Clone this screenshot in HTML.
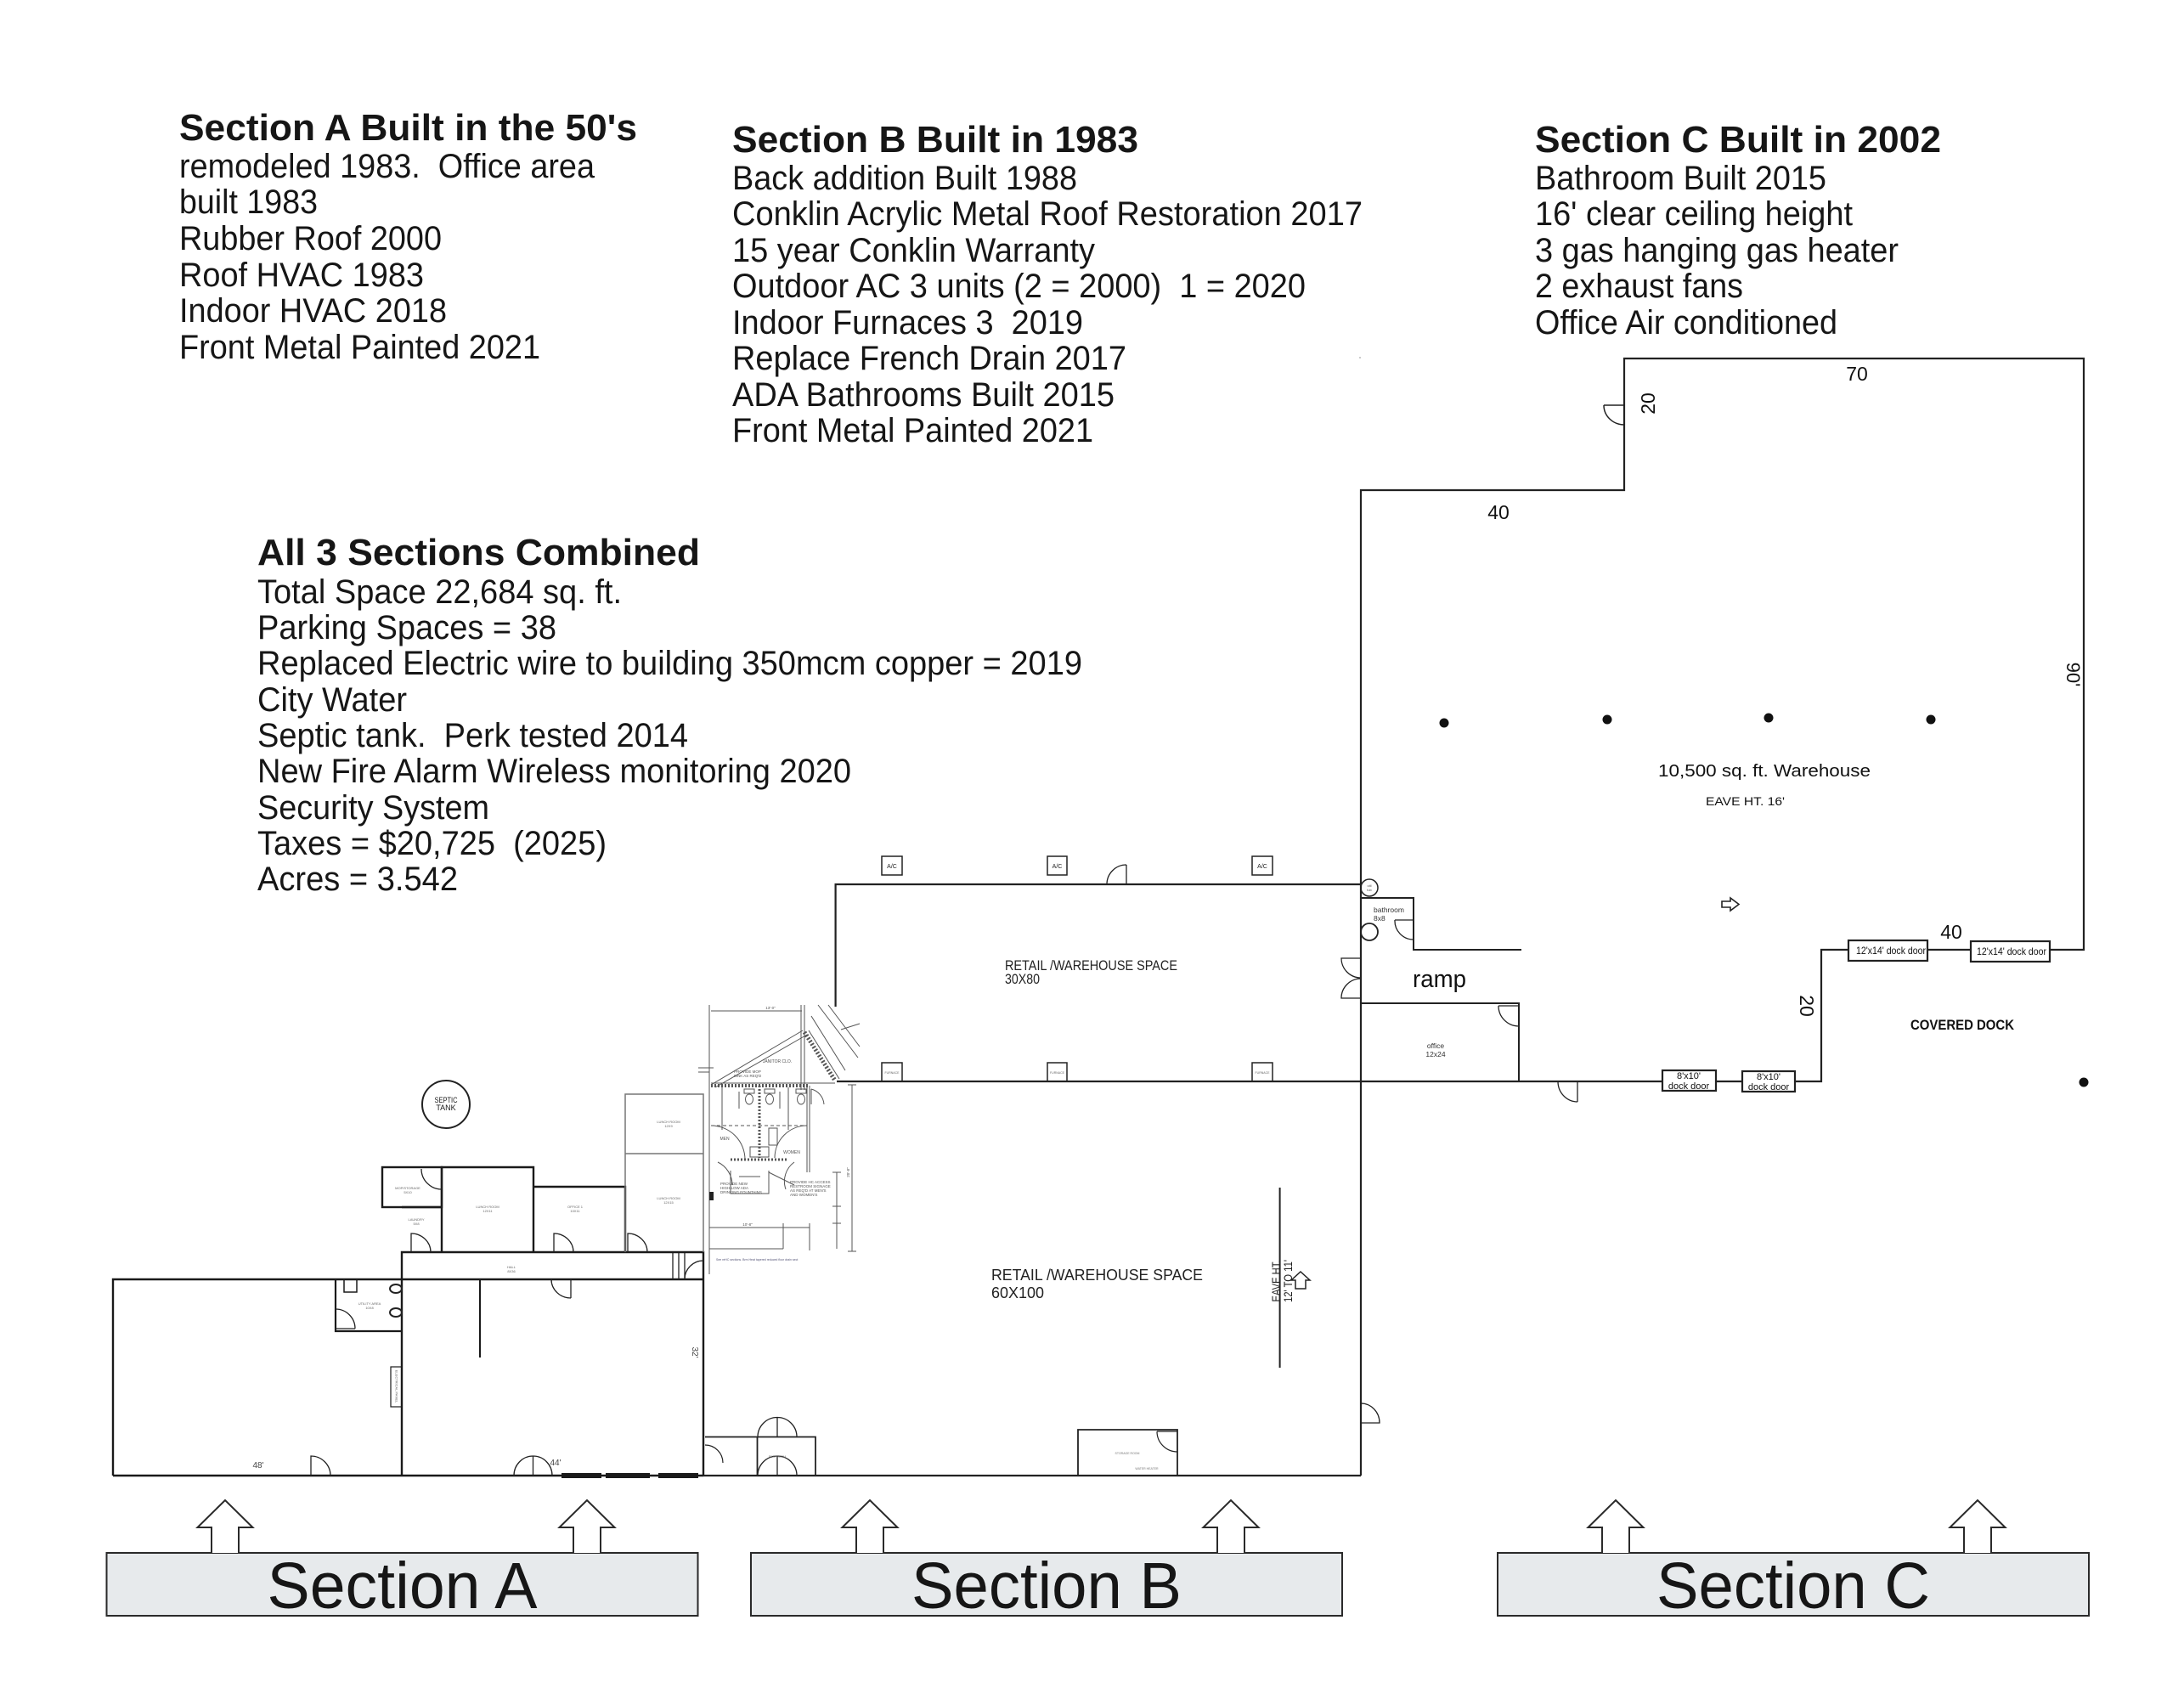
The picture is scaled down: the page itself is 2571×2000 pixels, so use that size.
<!DOCTYPE html>
<html><head><meta charset="utf-8">
<style>
html,body{margin:0;padding:0;background:#fff;}
svg{display:block;}
text{font-family:"Liberation Sans",Arial,sans-serif;white-space:pre;}
</style></head><body>
<svg width="2571" height="2000" viewBox="0 0 2571 2000" xmlns="http://www.w3.org/2000/svg" xml:space="preserve">
<rect width="2571" height="2000" fill="#fff"/>

<!-- ===== Top text blocks ===== -->
<g fill="#161616">
<text x="211" y="165" font-size="44" font-weight="bold" textLength="539" lengthAdjust="spacingAndGlyphs">Section A Built in the 50's</text>
<text x="211" y="209" font-size="40" textLength="489" lengthAdjust="spacingAndGlyphs">remodeled 1983.  Office area</text>
<text x="211" y="251" font-size="40" textLength="163" lengthAdjust="spacingAndGlyphs">built 1983</text>
<text x="211" y="294" font-size="40" textLength="309" lengthAdjust="spacingAndGlyphs">Rubber Roof 2000</text>
<text x="211" y="337" font-size="40" textLength="288" lengthAdjust="spacingAndGlyphs">Roof HVAC 1983</text>
<text x="211" y="379" font-size="40" textLength="315" lengthAdjust="spacingAndGlyphs">Indoor HVAC 2018</text>
<text x="211" y="422" font-size="40" textLength="425" lengthAdjust="spacingAndGlyphs">Front Metal Painted 2021</text>

<text x="862" y="179" font-size="44" font-weight="bold" textLength="478" lengthAdjust="spacingAndGlyphs">Section B Built in 1983</text>
<text x="862" y="223" font-size="40" textLength="406" lengthAdjust="spacingAndGlyphs">Back addition Built 1988</text>
<text x="862" y="265" font-size="40" textLength="742" lengthAdjust="spacingAndGlyphs">Conklin Acrylic Metal Roof Restoration 2017</text>
<text x="862" y="308" font-size="40" textLength="427" lengthAdjust="spacingAndGlyphs">15 year Conklin Warranty</text>
<text x="862" y="350" font-size="40" textLength="675" lengthAdjust="spacingAndGlyphs">Outdoor AC 3 units (2 = 2000)  1 = 2020</text>
<text x="862" y="393" font-size="40" textLength="413" lengthAdjust="spacingAndGlyphs">Indoor Furnaces 3  2019</text>
<text x="862" y="435" font-size="40" textLength="464" lengthAdjust="spacingAndGlyphs">Replace French Drain 2017</text>
<text x="862" y="478" font-size="40" textLength="450" lengthAdjust="spacingAndGlyphs">ADA Bathrooms Built 2015</text>
<text x="862" y="520" font-size="40" textLength="425" lengthAdjust="spacingAndGlyphs">Front Metal Painted 2021</text>

<text x="1807" y="179" font-size="44" font-weight="bold" textLength="478" lengthAdjust="spacingAndGlyphs">Section C Built in 2002</text>
<text x="1807" y="223" font-size="40" textLength="343" lengthAdjust="spacingAndGlyphs">Bathroom Built 2015</text>
<text x="1807" y="265" font-size="40" textLength="374" lengthAdjust="spacingAndGlyphs">16' clear ceiling height</text>
<text x="1807" y="308" font-size="40" textLength="428" lengthAdjust="spacingAndGlyphs">3 gas hanging gas heater</text>
<text x="1807" y="350" font-size="40" textLength="245" lengthAdjust="spacingAndGlyphs">2 exhaust fans</text>
<text x="1807" y="393" font-size="40" textLength="356" lengthAdjust="spacingAndGlyphs">Office Air conditioned</text>

<text x="303" y="665" font-size="44" font-weight="bold" textLength="521" lengthAdjust="spacingAndGlyphs">All 3 Sections Combined</text>
<text x="303" y="710" font-size="40" textLength="429" lengthAdjust="spacingAndGlyphs">Total Space 22,684 sq. ft.</text>
<text x="303" y="752" font-size="40" textLength="352" lengthAdjust="spacingAndGlyphs">Parking Spaces = 38</text>
<text x="303" y="794" font-size="40" textLength="971" lengthAdjust="spacingAndGlyphs">Replaced Electric wire to building 350mcm copper = 2019</text>
<text x="303" y="837" font-size="40" textLength="176" lengthAdjust="spacingAndGlyphs">City Water</text>
<text x="303" y="879" font-size="40" textLength="507" lengthAdjust="spacingAndGlyphs">Septic tank.  Perk tested 2014</text>
<text x="303" y="921" font-size="40" textLength="699" lengthAdjust="spacingAndGlyphs">New Fire Alarm Wireless monitoring 2020</text>
<text x="303" y="964" font-size="40" textLength="273" lengthAdjust="spacingAndGlyphs">Security System</text>
<text x="303" y="1006" font-size="40" textLength="411" lengthAdjust="spacingAndGlyphs">Taxes = $20,725  (2025)</text>
<text x="303" y="1048" font-size="40" textLength="236" lengthAdjust="spacingAndGlyphs">Acres = 3.542</text>
</g>
<circle cx="1601" cy="421" r="1" fill="#bbb"/>

<!-- ===== Section C ===== -->
<g fill="none" stroke="#222" stroke-width="2.2">
<path d="M1602,1737 V577 H1912 V422 H2453 V1118 H2413"/>
<rect x="2320" y="1108" width="93" height="24"/>
<path d="M2320,1118 H2269"/>
<rect x="2176" y="1107" width="93" height="24"/>
<path d="M2176,1118 H2144 V1273 H2113"/>
<rect x="2051" y="1261" width="62" height="24"/>
<path d="M2051,1273 H2020"/>
<rect x="1957" y="1260" width="63" height="24"/>
<path d="M1957,1273 H985"/>
<path d="M1888,477 H1912 M1888,477 A24,23 0 0 0 1912,500" stroke-width="1.5"/>
<path d="M1602,1057 H1664 V1118 H1791" stroke-width="2"/>
<circle cx="1612" cy="1045" r="10" stroke-width="1.5"/>
<circle cx="1612" cy="1097" r="10" stroke-width="1.8"/>
<path d="M1642,1083 H1664 M1642,1083 A22,22 0 0 0 1664,1106" stroke-width="1.3"/>
<path d="M1602,1181 H1788 V1273" stroke-width="2"/>
<path d="M1764,1184 H1788 M1764,1184 A24,24 0 0 0 1788,1208" stroke-width="1.3"/>
<path d="M1857,1273 V1297 M1834,1273 A23,24 0 0 0 1857,1297" stroke-width="1.3"/>
<path d="M1602,1128 H1579 A23,23 0 0 0 1602,1151 M1602,1175 H1579 A23,23 0 0 1 1602,1152" stroke-width="1.3"/>
</g>
<g fill="#111">
<circle cx="1700" cy="851" r="5.5"/>
<circle cx="1892" cy="847" r="5.5"/>
<circle cx="2082" cy="845" r="5.5"/>
<circle cx="2273" cy="847" r="5.5"/>
<circle cx="2453" cy="1274" r="5.5"/>
<text x="2186" y="448" font-size="23" text-anchor="middle">70</text>
<text x="1764" y="611" font-size="23" text-anchor="middle">40</text>
<text x="2297" y="1105" font-size="23" text-anchor="middle">40</text>
<text transform="translate(1940,475) rotate(-90)" x="0" y="8" font-size="23" text-anchor="middle">20</text>
<text transform="translate(2127,1184) rotate(90)" x="0" y="8" font-size="23" text-anchor="middle">20</text>
<text transform="translate(2441,794) rotate(90)" x="0" y="8" font-size="22" text-anchor="middle">90'</text>
<text x="1952" y="914" font-size="20" textLength="250" lengthAdjust="spacingAndGlyphs">10,500 sq. ft. Warehouse</text>
<text x="2008" y="948" font-size="14" textLength="93" lengthAdjust="spacingAndGlyphs">EAVE HT. 16'</text>
<text x="2249" y="1212" font-size="17" font-weight="bold" textLength="122" lengthAdjust="spacingAndGlyphs">COVERED DOCK</text>
<text x="1663" y="1162" font-size="29" textLength="63" lengthAdjust="spacingAndGlyphs">ramp</text>
<text x="1617" y="1074" font-size="8.5" fill="#333">bathroom</text>
<text x="1617" y="1084" font-size="8.5" fill="#333">8x8</text>
<text x="1690" y="1234" font-size="8.5" fill="#333" text-anchor="middle">office</text>
<text x="1690" y="1244" font-size="8.5" fill="#333" text-anchor="middle">12x24</text>
<text x="1988" y="1270" font-size="11" text-anchor="middle">8'x10'</text>
<text x="1988" y="1282" font-size="11" text-anchor="middle">dock door</text>
<text x="2082" y="1271" font-size="11" text-anchor="middle">8'x10'</text>
<text x="2082" y="1283" font-size="11" text-anchor="middle">dock door</text>
<text x="2185" y="1123" font-size="12" textLength="82" lengthAdjust="spacingAndGlyphs">12'x14' dock door</text>
<text x="2327" y="1124" font-size="12" textLength="82" lengthAdjust="spacingAndGlyphs">12'x14' dock door</text>
<text x="1612" y="1044" font-size="4" text-anchor="middle" fill="#555">util</text>
<text x="1612" y="1049" font-size="4" text-anchor="middle" fill="#555">tub</text>
</g>
<path d="M2027,1061 H2037 V1057 L2047,1064.5 L2037,1072 V1068 H2027 Z" fill="#fff" stroke="#222" stroke-width="1.6"/>

<!-- ===== Section B ===== -->
<g fill="none" stroke="#222" stroke-width="2.2">
<path d="M983.6,1185 V1041 H1602"/>
<path d="M828,1737 H1602"/>
<path d="M1326,1041 V1018 M1303,1041 A23,23 0 0 1 1326,1018" stroke-width="1.3"/>
<g stroke-width="1.5">
<rect x="1038" y="1008" width="24" height="22"/>
<rect x="1233" y="1008" width="23" height="22"/>
<rect x="1474" y="1008" width="24" height="22"/>
<rect x="1038" y="1251" width="24" height="22"/>
<rect x="1233" y="1251" width="23" height="22"/>
<rect x="1474" y="1251" width="24" height="22"/>
</g>
<path d="M1506.6,1398 V1610" stroke-width="2"/>
<path d="M1602,1675 H1624 A22,23 0 0 0 1602,1652" stroke-width="1.3"/>
<path d="M830,1691.5 H891.5 M891.5,1737 V1691.5 H960 V1737" stroke-width="1.8"/>
<path d="M892,1691.5 A23,23 0 0 1 938,1691.5 M915,1668.5 V1691.5" stroke-width="1.3"/>
<path d="M892,1737 A23,23 0 0 1 938,1737 M915,1714 V1737" stroke-width="1.3"/>
<path d="M830,1701 A21,21 0 0 1 851,1722" stroke-width="1.2"/>
<path d="M1269,1737 V1683 H1386 V1737" stroke-width="1.8"/>
<path d="M1362,1685 H1386 M1362,1685 A24,24 0 0 0 1386,1709" stroke-width="1.2"/>
</g>
<path d="M1525,1517 V1507 H1520 L1531,1497 L1542,1507 H1537 V1517 Z" fill="#fff" stroke="#222" stroke-width="1.5"/>
<g fill="#222">
<text x="1050" y="1022" font-size="7" text-anchor="middle">A/C</text>
<text x="1244.5" y="1022" font-size="7" text-anchor="middle">A/C</text>
<text x="1486" y="1022" font-size="7" text-anchor="middle">A/C</text>
<text x="1050" y="1264" font-size="3.5" text-anchor="middle" fill="#666">FURNACE</text>
<text x="1244.5" y="1264" font-size="3.5" text-anchor="middle" fill="#666">FURNACE</text>
<text x="1486" y="1264" font-size="3.5" text-anchor="middle" fill="#666">FURNACE</text>
<text x="1183" y="1142" font-size="16.5" textLength="203" lengthAdjust="spacingAndGlyphs">RETAIL /WAREHOUSE SPACE</text>
<text x="1183" y="1158" font-size="16.5" textLength="41" lengthAdjust="spacingAndGlyphs">30X80</text>
<text x="1167" y="1507" font-size="18.5" textLength="249" lengthAdjust="spacingAndGlyphs">RETAIL /WAREHOUSE SPACE</text>
<text x="1167" y="1528" font-size="18.5" textLength="62" lengthAdjust="spacingAndGlyphs">60X100</text>
<text transform="translate(1502,1508) rotate(-90)" x="0" y="5" font-size="13.5" text-anchor="middle" textLength="49" lengthAdjust="spacingAndGlyphs">EAVE HT.</text>
<text transform="translate(1516,1508) rotate(-90)" x="0" y="5" font-size="13.5" text-anchor="middle" textLength="50" lengthAdjust="spacingAndGlyphs">12' TO 11'</text>
<text x="915" y="1716" font-size="3.5" fill="#777" text-anchor="middle">RESTROOM</text>
<text x="1327" y="1712" font-size="3.5" fill="#777" text-anchor="middle">STORAGE ROOM</text>
<text x="1350" y="1730" font-size="3.5" fill="#777" text-anchor="middle">WATER HEATER</text>
</g>

<!-- Section B bathroom architectural insert -->
<g fill="none" stroke="#555" stroke-width="1">
<path d="M835,1183 V1500"/>
<path d="M837,1190 H944"/>
<path d="M943,1183 V1283 M947,1183 V1283"/>
<path d="M837,1277 L945,1213 M842,1280 L950,1218"/>
<path d="M947,1215 L983,1272" stroke-width="5" stroke-dasharray="2 2"/>
<path d="M952,1213 L988,1270"/>
<path d="M963,1183 L1010,1245 M975,1183 L1012,1232 M955,1196 L995,1260 M990,1212 L1012,1205"/>
<path d="M837,1278 H953" stroke-width="4" stroke-dasharray="2 2"/>
<path d="M837,1275 H983" stroke-width="1"/>
<path d="M894,1278 V1363" stroke-width="3" stroke-dasharray="2 2"/>
<path d="M850,1280 V1330 M928,1280 V1330 M870,1285 V1305 M918,1285 V1305"/>
<path d="M837,1325 H950" stroke-dasharray="4 3"/>
<path d="M860,1365 H927" stroke-width="3" stroke-dasharray="2 2"/>
<path d="M950,1278 V1380 M953,1278 V1380"/>
<path d="M985,1380 V1470 M1003,1277 V1473 M980,1380 H990 M980,1420 H990 M980,1440 H990 M998,1277 H1008 M998,1473 H1008"/>
<path d="M835,1470 H922 M922,1440 V1470 M953,1440 V1472 M835,1445 H953"/>
<path d="M837,1325 A40,40 0 0 1 877,1365 M950,1325 A38,38 0 0 0 912,1363"/>
<path d="M845,1368 A30,30 0 0 1 862,1395 M935,1368 A28,28 0 0 0 925,1400"/>
<path d="M860,1378 V1405 H905 V1378 M870,1385 H895"/>
<path d="M905,1380 L935,1395"/>
<rect x="883" y="1350" width="22" height="12"/>
<rect x="905" y="1328" width="10" height="20"/>
<ellipse cx="882" cy="1294" rx="4.5" ry="6"/>
<ellipse cx="906" cy="1294" rx="4.5" ry="6"/>
<ellipse cx="943" cy="1294" rx="4.5" ry="6"/>
<rect x="876" y="1282" width="12" height="5"/>
<rect x="900" y="1282" width="12" height="5"/>
<rect x="937" y="1282" width="12" height="5"/>
<path d="M955,1282 A20,20 0 0 1 970,1300 M955,1282 V1300"/>
<path d="M822,1257 H840 M822,1262 H835"/>
</g>
<rect x="835" y="1403" width="5" height="10" fill="#222"/>
<g fill="#555" font-size="4.5">
<text x="907" y="1188" text-anchor="middle">13'-0"</text>
<text x="915" y="1251" text-anchor="middle" font-size="5">JANITOR CLO.</text>
<text x="880" y="1263" text-anchor="middle">PROVIDE MOP</text>
<text x="880" y="1268" text-anchor="middle">SINK AS REQ'D</text>
<text x="853" y="1342" text-anchor="middle" font-size="5">MEN</text>
<text x="932" y="1358" text-anchor="middle" font-size="5">WOMEN</text>
<text x="848" y="1395">PROVIDE NEW</text>
<text x="848" y="1400">HIGH/LOW ADA</text>
<text x="848" y="1405">DRINKING FOUNTAINS</text>
<text x="930" y="1393">PROVIDE HC ACCESS</text>
<text x="930" y="1398">RESTROOM SIGNAGE</text>
<text x="930" y="1403">AS REQ'D AT MEN'S</text>
<text x="930" y="1408">AND WOMEN'S</text>
<text x="880" y="1443" text-anchor="middle">10'-8"</text>
<text x="1000" y="1380" text-anchor="middle" transform="rotate(-90 1000 1380)">20'-8"</text>
<text x="843" y="1484" font-size="3.5" fill="#557">See reHC sections. Brm Heat tapered reduced floor drain sect</text>
</g>

<!-- ===== Section A ===== -->
<g fill="none" stroke="#1a1a1a" stroke-width="2.4">
<path d="M133,1737 V1506 H828"/>
<path d="M133,1737 H828"/>
<path d="M828,1737 V1474 H473 V1737"/>
<rect x="450" y="1374" width="70" height="47"/>
<path d="M473,1421 H520 M520,1474 V1374 H628 V1474 M628,1397 H736 V1474"/>
<path d="M565,1506 V1598" stroke-width="2"/>
<path d="M395,1506 V1567 H473" stroke-width="2.2"/>
<rect x="405" y="1506" width="15" height="15" stroke-width="1.5"/>
<rect x="460" y="1609" width="13" height="47" stroke-width="1.2"/>
</g>
<g fill="none" stroke="#777" stroke-width="1.5">
<path d="M736,1474 V1288 H828 V1474 M736,1358 H828"/>
</g>
<g fill="none" stroke="#222" stroke-width="1.3">
<ellipse cx="466" cy="1517" rx="7" ry="5" stroke-width="2"/>
<ellipse cx="466" cy="1545" rx="7" ry="5" stroke-width="2"/>
<path d="M395,1564 H418 M418,1564 A23,23 0 0 0 395,1541"/>
<path d="M672,1506 V1528 M649,1506 A23,22 0 0 0 672,1528"/>
<path d="M520,1376 V1400 M496,1376 A24,24 0 0 0 520,1400"/>
<path d="M484,1474 V1452 A23,22 0 0 1 507,1474"/>
<path d="M652,1474 V1452 A23,22 0 0 1 675,1474"/>
<path d="M739,1474 V1452 A23,22 0 0 1 762,1474"/>
<path d="M366,1737 V1714 A23,23 0 0 1 389,1737"/>
<path d="M605,1737 A22.5,23 0 0 1 650,1737 M627.5,1714 V1737"/>
<path d="M792,1475 V1506 M799,1475 V1506 M806,1475 V1506"/>
<path d="M806,1506 A22,22 0 0 1 828,1484"/>
<circle cx="525" cy="1300" r="28" stroke-width="2"/>
</g>
<g fill="#1a1a1a">
<rect x="661" y="1734" width="47" height="6"/>
<rect x="713" y="1734" width="52" height="6"/>
<rect x="775" y="1734" width="47" height="6"/>
<text x="525" y="1298" font-size="9" text-anchor="middle" textLength="27" lengthAdjust="spacingAndGlyphs">SEPTIC</text>
<text x="525" y="1307" font-size="9" text-anchor="middle">TANK</text>
<text x="304" y="1728" font-size="10" text-anchor="middle" fill="#444">48'</text>
<text x="654" y="1725" font-size="10" text-anchor="middle" fill="#444">44'</text>
<text transform="translate(818,1592) rotate(90)" x="0" y="3" font-size="10" text-anchor="middle" fill="#444">32'</text>
</g>
<g fill="#666" font-size="4">
<text x="602" y="1493" text-anchor="middle">HALL</text>
<text x="602" y="1498" text-anchor="middle">8X36</text>
<text x="480" y="1400" text-anchor="middle">MOP/STORAGE</text>
<text x="480" y="1405" text-anchor="middle">5X10</text>
<text x="490" y="1437" text-anchor="middle">LAUNDRY</text>
<text x="490" y="1442" text-anchor="middle">5X8</text>
<text x="574" y="1422" text-anchor="middle">LUNCH ROOM</text>
<text x="574" y="1427" text-anchor="middle">12X11</text>
<text x="677" y="1422" text-anchor="middle">OFFICE 1</text>
<text x="677" y="1427" text-anchor="middle">10X11</text>
<text x="787" y="1322" text-anchor="middle">LUNCH ROOM</text>
<text x="787" y="1327" text-anchor="middle">12X9</text>
<text x="787" y="1412" text-anchor="middle">LUNCH ROOM</text>
<text x="787" y="1417" text-anchor="middle">12X15</text>
<text x="435" y="1536" text-anchor="middle">UTILITY AREA</text>
<text x="435" y="1541" text-anchor="middle">10X8</text>
<text transform="translate(467,1632) rotate(90)" x="0" y="1.5" text-anchor="middle">ELECTRICAL PANEL</text>
</g>

<!-- ===== Bottom labels ===== -->
<g stroke="#2a2a2a" stroke-width="2">
<rect x="125.5" y="1828" width="696" height="74" fill="#e7eaec"/>
<rect x="884" y="1828" width="696" height="74" fill="#e7eaec"/>
<rect x="1763" y="1828" width="696" height="74" fill="#e7eaec"/>
<g fill="#fff" stroke-linejoin="miter">
<path d="M249,1828 V1798 H232.5 L265,1766 L297.5,1798 H281 V1828"/>
<path d="M675,1828 V1798 H658.5 L691,1766 L723.5,1798 H707 V1828"/>
<path d="M1008,1828 V1798 H991.5 L1024,1766 L1056.5,1798 H1040 V1828"/>
<path d="M1433,1828 V1798 H1416.5 L1449,1766 L1481.5,1798 H1465 V1828"/>
<path d="M1886,1828 V1798 H1869.5 L1902,1766 L1934.5,1798 H1918 V1828"/>
<path d="M2312,1828 V1798 H2295.5 L2328,1766 L2360.5,1798 H2344 V1828"/>
</g>
</g>
<g fill="#161616" font-size="77">
<text x="473.5" y="1893" text-anchor="middle" textLength="318" lengthAdjust="spacingAndGlyphs">Section A</text>
<text x="1232" y="1893" text-anchor="middle" textLength="318" lengthAdjust="spacingAndGlyphs">Section B</text>
<text x="2111" y="1893" text-anchor="middle" textLength="322" lengthAdjust="spacingAndGlyphs">Section C</text>
</g>
</svg>
</body></html>
